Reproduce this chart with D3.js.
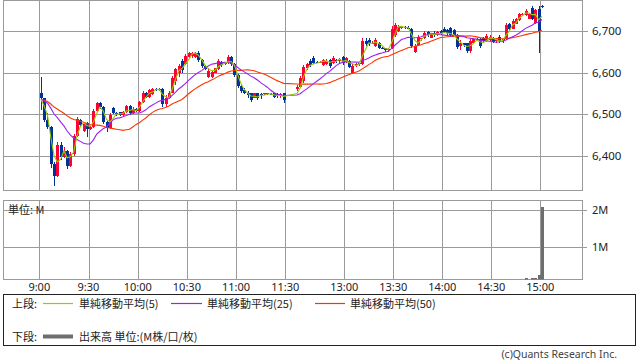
<!DOCTYPE html>
<html><head><meta charset="utf-8">
<script src="https://cdn.jsdelivr.net/npm/d3@7"></script>
<style>body{margin:0;background:#fff}svg{display:block}</style>
</head><body><svg id="c" width="638" height="362"></svg>
<script>
// ---- data (2-minute candles) ----
const SESSIONS = [["9:00","11:28"],["12:30","15:00"]];
const STEP = 2;
const open = [6550,6538,6485,6470,6380,6350,6425,6398,6412,6375,6405,6448,6486,6460,6478,6465,6470,6508,6527,6516,6480,6466,6515,6503,6504,6499,6505,6519,6502,6513,6508,6528,6552,6542,6548,6560,6559,6560,6525,6540,6552,6580,6600,6628,6620,6638,6640,6638,6648,6630,6616,6590,6590,6600,6608,6626,6620,6622,6638,6620,6595,6568,6558,6552,6550,6538,6550,6548,6548,6550,6549,6550,6548,6544,6550,
 6560,6566,6580,6610,6628,6636,6626,6625,6618,6620,6630,6622,6630,6628,6638,6626,6628,6600,6618,6620,6620,6676,6678,6670,6664,6672,6660,6658,6654,6658,6690,6700,6708,6709,6708,6706,6650,6666,6680,6682,6698,6684,6696,6690,6700,6706,6702,6708,6702,6690,6664,6670,6670,6652,6672,6680,6680,6684,6676,6678,6684,6676,6686,6680,6680,6716,6706,6718,6726,6740,6738,6730,6756,6720,6752,6760];
const high = [6590,6540,6503,6472,6385,6432,6434,6420,6414,6410,6452,6492,6488,6482,6480,6475,6512,6530,6530,6520,6484,6502,6518,6505,6506,6508,6522,6521,6516,6514,6532,6556,6554,6560,6564,6562,6563,6562,6545,6556,6592,6612,6620,6632,6644,6650,6650,6650,6651,6632,6618,6610,6606,6612,6632,6628,6624,6643,6640,6623,6596,6572,6562,6556,6552,6552,6552,6552,6552,6552,6551,6552,6550,6550,6552,
 6570,6592,6618,6624,6632,6640,6628,6628,6632,6632,6632,6640,6632,6634,6640,6638,6630,6620,6624,6624,6682,6682,6682,6676,6682,6674,6662,6660,6660,6712,6720,6714,6712,6712,6711,6708,6668,6690,6684,6700,6700,6696,6700,6700,6702,6710,6704,6710,6704,6692,6678,6672,6672,6680,6682,6682,6682,6686,6692,6690,6686,6680,6690,6684,6720,6720,6728,6732,6744,6744,6752,6744,6760,6754,6760,6762];
const low = [6510,6480,6465,6370,6328,6348,6390,6395,6368,6372,6400,6445,6470,6458,6445,6462,6466,6505,6512,6476,6458,6464,6500,6496,6496,6496,6502,6498,6500,6504,6506,6526,6538,6540,6545,6556,6555,6517,6518,6536,6550,6570,6590,6600,6618,6634,6636,6636,6626,6612,6605,6588,6588,6598,6606,6614,6618,6620,6615,6590,6562,6550,6548,6540,6530,6540,6534,6536,6546,6547,6546,6538,6540,6540,6526,
 6556,6564,6574,6606,6614,6620,6622,6622,6616,6618,6612,6620,6624,6624,6618,6624,6610,6596,6614,6616,6618,6664,6664,6668,6662,6656,6656,6650,6650,6656,6686,6698,6706,6706,6705,6658,6646,6664,6676,6680,6686,6682,6686,6688,6690,6694,6690,6686,6686,6656,6654,6662,6648,6648,6670,6676,6658,6672,6674,6676,6670,6672,6672,6672,6678,6702,6704,6716,6724,6738,6736,6728,6726,6716,6648,6756];
const close = [6538,6485,6470,6380,6350,6425,6398,6412,6375,6405,6448,6488,6474,6478,6465,6470,6508,6527,6516,6480,6466,6498,6503,6500,6499,6505,6519,6502,6513,6508,6528,6552,6542,6557,6560,6559,6560,6525,6540,6552,6588,6608,6616,6605,6640,6646,6647,6648,6630,6616,6608,6604,6602,6610,6628,6618,6622,6638,6620,6595,6568,6556,6552,6545,6534,6550,6540,6546,6550,6549,6548,6542,6544,6548,6535,
 6566,6588,6614,6620,6618,6624,6625,6626,6630,6628,6616,6636,6628,6632,6622,6634,6614,6616,6620,6622,6676,6668,6670,6672,6678,6660,6659,6654,6656,6706,6714,6710,6709,6708,6708,6664,6664,6686,6682,6696,6690,6694,6690,6697,6694,6698,6694,6690,6690,6662,6670,6666,6652,6676,6680,6678,6664,6676,6688,6686,6674,6678,6676,6678,6714,6706,6724,6728,6740,6742,6748,6740,6730,6750,6700,6758];
const PREV_CLOSE = 6535;
const volTimes  = ["14:50","14:54","14:56","14:58","15:00"];
const volValues = [0.14, 0.14, 0.14, 0.23, 2.09]; // M
const maLabels = ["単純移動平均(5)","単純移動平均(25)","単純移動平均(50)"];
const maPeriods = [5,25,50];
const xTickLabels = ["9:00","9:30","10:00","10:30","11:00","11:30","13:00","13:30","14:00","14:30","15:00"];
const yTicks = [6400,6500,6600,6700];
const vTicks = [1,2];

// ---- helpers ----
const toMin = s => { const [h,m] = s.split(":").map(Number); return h*60+m; };
const times = [];
SESSIONS.forEach(([a,b]) => { for (let t = toMin(a); t <= toMin(b); t += STEP) times.push(t); });
const candles = times.map((t,i) => ({t, o:open[i], h:high[i], l:low[i], c:close[i]}));

const svg = d3.select("#c");
const FONT = "'Noto Sans','Noto Sans CJK JP',sans-serif";
const JFONT = "'Noto Sans CJK JP','Noto Sans',sans-serif";
const GRID = "#9a9a9a";
const UP = "#ff0033", DOWN = "#003399";
const P = {l:3.5, r:582.5, t:0.5, b:190.5};
const V = {t:200.5, b:279.5};

const x = d3.scaleLinear().domain([540,690,750,900]).range([39.3,285.3,295.3,540.3]);
const y = d3.scaleLinear().domain([6400,6700]).range([155.7,31]);
const yv = d3.scaleLinear().domain([1,2]).range([246.7,210]);
const cx = t => x(t + STEP/2);

// clip paths
const defs = svg.append("defs");
defs.append("clipPath").attr("id","cp").append("rect").attr("x",P.l).attr("y",P.t).attr("width",P.r-P.l).attr("height",P.b-P.t);
defs.append("clipPath").attr("id","cv").append("rect").attr("x",P.l).attr("y",V.t).attr("width",P.r-P.l).attr("height",V.b-V.t);

const xTicks = xTickLabels.map(toMin);

// ---- price panel grid ----
const g1 = svg.append("g");
g1.selectAll(".vg").data(xTicks).join("line")
  .attr("x1",d=>Math.round(x(d))+0.5).attr("x2",d=>Math.round(x(d))+0.5)
  .attr("y1",P.t).attr("y2",P.b).attr("stroke",GRID).attr("stroke-width",1);
g1.selectAll(".hg").data(yTicks).join("line")
  .attr("x1",P.l).attr("x2",588).attr("y1",d=>Math.round(y(d))+0.5).attr("y2",d=>Math.round(y(d))+0.5)
  .attr("stroke",GRID);
g1.append("rect").attr("x",P.l).attr("y",P.t).attr("width",P.r-P.l).attr("height",P.b-P.t)
  .attr("fill","none").attr("stroke",GRID);
g1.selectAll(".yl").data(yTicks).join("text")
  .attr("x",592).attr("y",d=>y(d)).attr("dy","0.36em")
  .attr("font-family",FONT).attr("font-size",11.5).attr("fill","#222")
  .text(d=>d3.format(",")(d));

// ---- candles ----
const gc = svg.append("g").attr("clip-path","url(#cp)").attr("shape-rendering","crispEdges");
gc.selectAll(".wk").data(candles).join("line")
  .attr("x1",d=>Math.round(cx(d.t))+0.5).attr("x2",d=>Math.round(cx(d.t))+0.5)
  .attr("y1",d=>y(d.h)).attr("y2",d=>y(d.l))
  .attr("stroke",d=>d.c>d.o?UP:DOWN).attr("stroke-width",1);
gc.selectAll(".bd").data(candles).join("rect")
  .attr("x",d=>Math.round(cx(d.t))-1).attr("width",3)
  .attr("y",d=>y(Math.max(d.o,d.c)))
  .attr("height",d=>Math.max(1, Math.abs(y(d.o)-y(d.c))))
  .attr("fill",d=>d.c>d.o?UP:DOWN);

// ---- moving averages ----
const maColors = ["#99cc00","#9922ee","#ff3300"];
function sma(period){
  const win = Math.round(period/STEP);
  const seq = Array(win-1).fill(PREV_CLOSE).concat(close);
  return close.map((_,i)=>d3.mean(seq.slice(i,i+win)));
}
const gl = svg.append("g").attr("clip-path","url(#cp)");
maPeriods.slice().reverse().forEach((p,ri)=>{
  const i = maPeriods.length-1-ri;
  const vals = sma(p);
  gl.append("path").datum(candles.map((d,k)=>[cx(d.t), y(vals[k])]))
    .attr("d", d3.line()).attr("fill","none").attr("stroke",maColors[i]).attr("stroke-width",1.1);
});

// ---- volume panel ----
const g2 = svg.append("g");
g2.selectAll(".vg").data(xTicks).join("line")
  .attr("x1",d=>Math.round(x(d))+0.5).attr("x2",d=>Math.round(x(d))+0.5)
  .attr("y1",V.t).attr("y2",V.b).attr("stroke",GRID);
g2.selectAll(".hg").data(vTicks).join("line")
  .attr("x1",P.l).attr("x2",587).attr("y1",d=>Math.round(yv(d))+0.5).attr("y2",d=>Math.round(yv(d))+0.5)
  .attr("stroke",GRID);
g2.append("rect").attr("x",P.l).attr("y",V.t).attr("width",P.r-P.l).attr("height",V.b-V.t)
  .attr("fill","none").attr("stroke",GRID);
g2.selectAll(".vl").data(vTicks).join("text")
  .attr("x",592).attr("y",d=>yv(d)).attr("dy","0.36em")
  .attr("font-family",FONT).attr("font-size",11).attr("fill","#222")
  .text(d=>d+"M");
g2.append("text").attr("x",8).attr("y",210).attr("dy","0.36em")
  .attr("font-family",JFONT).attr("font-size",11).attr("fill","#222").text("単位: M");
const gvb = svg.append("g").attr("clip-path","url(#cv)").attr("shape-rendering","crispEdges");
gvb.selectAll("rect").data(volTimes.map((t,i)=>({t:toMin(t), v:volValues[i]}))).join("rect")
  .attr("x",d=>Math.round(cx(d.t))-1).attr("width",3)
  .attr("y",d=>yv(d.v)).attr("height",d=>Math.max(0,V.b-yv(d.v)))
  .attr("fill","#6e6e6e");

// x tick labels
svg.selectAll(".xl").data(xTickLabels).join("text")
  .attr("x",d=>x(toMin(d))).attr("y",287).attr("dy","0.36em").attr("text-anchor","middle")
  .attr("font-family",FONT).attr("font-size",11).attr("fill","#222").text(d=>d);

// ---- legend ----
const lg = svg.append("g");
lg.append("rect").attr("x",3.5).attr("y",294.5).attr("width",632).attr("height",51)
  .attr("fill","none").attr("stroke","#222");
lg.append("text").attr("x",12).attr("y",304).attr("dy","0.36em").attr("font-family",JFONT)
  .attr("font-size",11).attr("fill","#222").text("上段:");
const legX = [[43,73,79],[171,202,207],[315,345,350]];
maLabels.forEach((lab,i)=>{
  lg.append("line").attr("x1",legX[i][0]).attr("x2",legX[i][1]).attr("y1",303.5).attr("y2",303.5)
    .attr("stroke",maColors[i]).attr("stroke-width",1.2);
  lg.append("text").attr("x",legX[i][2]).attr("y",304).attr("dy","0.36em").attr("font-family",JFONT)
    .attr("font-size",11).attr("fill","#222").text(lab);
});
lg.append("text").attr("x",12).attr("y",337).attr("dy","0.36em").attr("font-family",JFONT)
  .attr("font-size",11).attr("fill","#222").text("下段:");
lg.append("line").attr("x1",43).attr("x2",73).attr("y1",336.5).attr("y2",336.5)
  .attr("stroke","#6e6e6e").attr("stroke-width",4);
lg.append("text").attr("x",79).attr("y",337).attr("dy","0.36em").attr("font-family",JFONT)
  .attr("font-size",11).attr("fill","#222").text("出来高 単位:(M株/口/枚)");

svg.append("text").attr("x",617).attr("y",354).attr("dy","0.36em").attr("text-anchor","end")
  .attr("font-family",FONT).attr("font-size",10.5).attr("fill","#444").text("(c)Quants Research Inc.");
</script></body></html>
